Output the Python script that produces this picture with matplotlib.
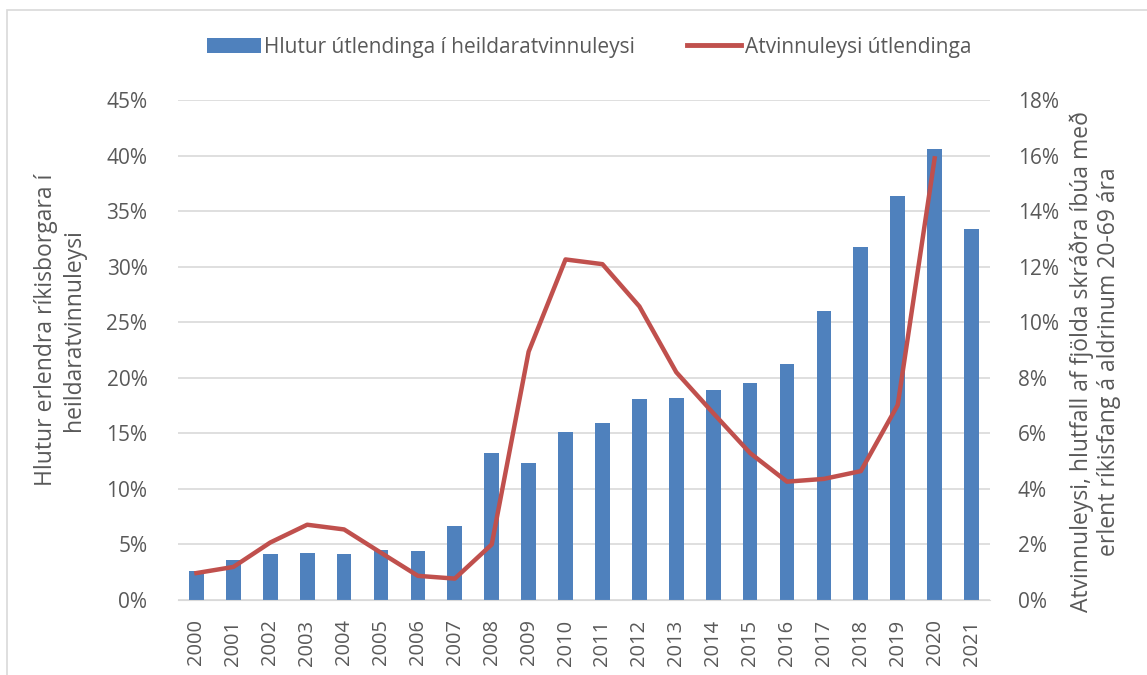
import numpy as np
import matplotlib.pyplot as plt
from matplotlib.patches import Rectangle, Patch
from matplotlib.lines import Line2D
from matplotlib.ticker import FuncFormatter

plt.rcParams['font.family'] = ['Open Sans', 'DejaVu Sans']

# data
years = [str(y) for y in range(2000, 2022)]
share_foreign = [2.6, 3.6, 4.1, 4.2, 4.1, 4.5, 4.4, 6.7, 13.2, 12.3, 15.1,
                 15.9, 18.1, 18.2, 18.9, 19.5, 21.2, 26.0, 31.8, 36.4, 40.6, 33.4]
unemp_foreign = [0.97, 1.19, 2.07, 2.71, 2.54, 1.70, 0.87, 0.77, 2.0, 8.94, 12.26,
                 12.09, 10.57, 8.20, 6.73, 5.29, 4.26, 4.36, 4.64, 7.02, 15.9]

bar_color = "#4F81BD"
line_color = "#C0504D"
txt_color = "#595959"
grid_color = "#D9D9D9"

W, H = 1147, 675
fig = plt.figure(figsize=(W / 100, H / 100), dpi=100)
ax = fig.add_axes([178 / W, 1 - 600 / H, (990 - 178) / W, 500 / H])
ax2 = ax.twinx()

x = np.arange(len(years))
ax.bar(x, share_foreign, width=0.4, color=bar_color, zorder=2)
ax2.plot(x[:len(unemp_foreign)], unemp_foreign, color=line_color, lw=3.2,
         solid_joinstyle='round', zorder=3)

ax.set_xlim(-0.5, len(years) - 0.5)
ax.set_ylim(0, 45)
ax2.set_ylim(0, 18)
ax.set_yticks(np.arange(0, 46, 5))
ax2.set_yticks(np.arange(0, 19, 2))
pct = FuncFormatter(lambda v, p: f"{v:.0f}%")
ax.yaxis.set_major_formatter(pct)
ax2.yaxis.set_major_formatter(pct)

ax.set_xticks(x)
ax.set_xticklabels(years, rotation=90)

for a in (ax, ax2):
    for s in a.spines.values():
        s.set_visible(False)
    a.tick_params(length=0, labelsize=15, colors=txt_color)
ax.tick_params(axis='x', labelsize=14.5, pad=14)
ax.spines['bottom'].set_visible(True)
ax.spines['bottom'].set_color(grid_color)
ax.tick_params(axis='y', pad=22)
ax2.tick_params(axis='y', pad=20)

ax.grid(axis='y', color=grid_color, lw=1.2, zorder=0)
ax.set_axisbelow(True)

# axis titles
fig.text(60 / W, 1 - 330 / H, "Hlutur erlendra ríkisborgara í\nheildaratvinnuleysi",
         rotation=90, ha='center', va='center', fontsize=16.5, color=txt_color,
         linespacing=1.25, multialignment='center')
fig.text(1095 / W, 1 - 362 / H,
         "Atvinnuleysi, hlutfall af fjölda skráðra íbúa með\nerlent ríkisfang á aldrinum 20-69 ára",
         rotation=90, ha='center', va='center', fontsize=16.5, color=txt_color,
         linespacing=1.15, multialignment='center')

handles = [Patch(facecolor=bar_color), Line2D([], [], color=line_color, lw=3.5)]
labels = ["Hlutur útlendinga í heildaratvinnuleysi", "Atvinnuleysi útlendinga"]
fig.legend(handles, labels, loc='center', bbox_to_anchor=(589 / W, 1 - 47 / H), ncol=2,
           frameon=False, fontsize=15, labelcolor=txt_color, handlelength=2.6,
           handletextpad=0.15, columnspacing=2.5)

# light frame round the chart
fig.add_artist(Rectangle((7 / W, -0.1), 1.2, 1.1 - 10 / H, transform=fig.transFigure,
                         fill=False, edgecolor=grid_color, lw=1.2, clip_on=False))

fig.savefig("out.png", dpi=100)
